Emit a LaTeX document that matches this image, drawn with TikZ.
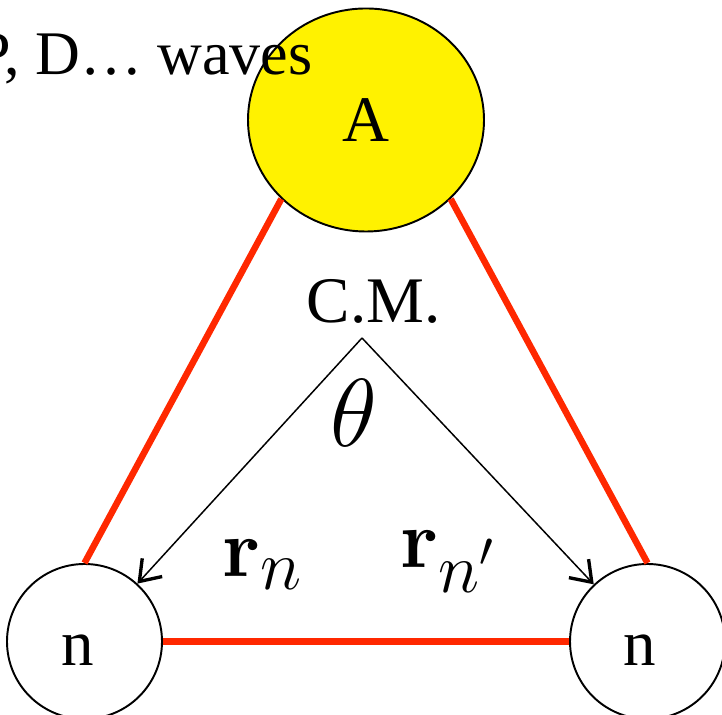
\RequirePackage{fix-cm}
\documentclass[tikz,border=0pt]{standalone}
\usepackage[no-math]{fontspec}
\setmainfont{Liberation Serif}
\usetikzlibrary{arrows.meta,shapes.geometric}
\definecolor{bondred}{RGB}{255,40,0}
\newcommand{\subidx}[1]{\mbox{\fontsize{40}{44}\selectfont$#1$}}
\tikzset{
  bond/.style={draw=bondred, line width=3.7pt},
  nucleon/.style={circle, draw, line width=1.1pt, minimum size=3.1cm, inner sep=0pt},
  radiusvec/.style={-{Straight Barb[length=3.8mm,width=5.4mm,line width=1.9pt]}, line width=0.85pt},
  bigtext/.style={font=\fontsize{37}{40}\selectfont},
  vectext/.style={font=\fontsize{47}{52}\selectfont, anchor=base west, inner sep=0pt}
}

\begin{document}
\begin{tikzpicture}
                        % Frame:
                        \useasboundingbox (0,0) rectangle (14.44,14.3);
                        \clip (0,0) rectangle (14.44,14.3);
                        % Core, neutrons and bonds:
                        \node[ellipse, draw, fill=yellow, line width=1.1pt, minimum width=4.72cm, minimum height=4.46cm, bigtext](A) at (7.32,11.9){A};
                        \node[nucleon](N1) at (1.69,1.47){};
                        \node[nucleon](N2) at (12.95,1.47){};
                        \node[bigtext, anchor=base](N1t) at (1.55,0.98){n};
                        \node[bigtext, anchor=base](N2t) at (12.8,0.98){n};
                        \draw[bond] (A.-137) -- (N1.north);
                        \draw[bond] (A.-43.6) -- (N2.north);
                        \draw[bond] (N1.east) -- (N2.west);
                        % Centre of mass and vectors:
                        \coordinate (CM) at (7.24,7.54);
                        \draw[radiusvec] (CM) -- (N1);
                        \draw[radiusvec] (CM) -- (N2);
                        \node[bigtext, anchor=base, inner sep=0pt](CMt) at (7.47,7.84){C.M.};
                        \node[font=\fontsize{55}{60}\selectfont](th) at (7.08,6.04){$\theta$};
                        \node[vectext](rn) at (4.44,2.76){$\mathbf{r}_{\subidx{n}}$};
                        \node[vectext](rnp) at (8.0,2.94){$\mathbf{r}_{\subidx{n'}}$};
                        % Title:
                        \node[font=\fontsize{35.3}{38}\selectfont, anchor=base east, inner sep=0pt](waves) at (6.26,12.8){P, D… waves};
                    \end{tikzpicture}
\end{document}
